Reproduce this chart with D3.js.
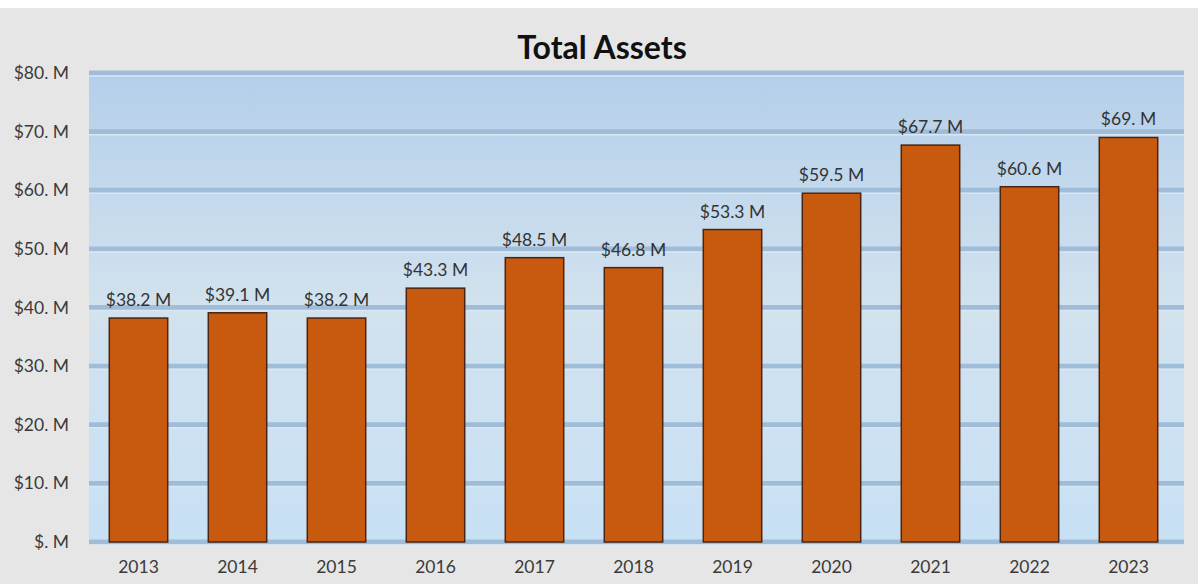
<!DOCTYPE html>
<html>
<head>
<meta charset="utf-8">
<script src="https://cdn.jsdelivr.net/npm/d3@7"></script>
<style>
  body { margin: 0; background: #fff; }
  svg { display: block; font-family: Lato, "Open Sans", sans-serif; }
</style>
</head>
<body>
<svg id="chart" width="1198" height="584"></svg>
<script>
// chart data
var years = ['2013', '2014', '2015', '2016', '2017', '2018', '2019', '2020', '2021', '2022', '2023'];
var assets = [38.2, 39.1, 38.2, 43.3, 48.5, 46.8, 53.3, 59.5, 67.7, 60.6, 69.0];
var assetLabels = ['$38.2 M', '$39.1 M', '$38.2 M', '$43.3 M', '$48.5 M', '$46.8 M', '$53.3 M', '$59.5 M', '$67.7 M', '$60.6 M', '$69. M'];
var yTicks = [0, 10, 20, 30, 40, 50, 60, 70, 80];
var yTickLabels = ['$. M', '$10. M', '$20. M', '$30. M', '$40. M', '$50. M', '$60. M', '$70. M', '$80. M'];

var svg = d3.select('#chart');
var margin = { top: 73, right: 20, bottom: 42, left: 89 };
var width = 1198 - margin.left - margin.right,
    height = 584 - margin.top - margin.bottom;

// outer grey panel
svg.append('rect')
  .attr('x', 0).attr('y', 8)
  .attr('width', 1198).attr('height', 576)
  .attr('fill', '#e6e6e6');

var defs = svg.append('defs');
var grad = defs.append('linearGradient')
  .attr('id', 'plotBg')
  .attr('x1', 0).attr('y1', 0).attr('x2', 0).attr('y2', 1);
grad.append('stop').attr('offset', '0%').attr('stop-color', '#b4cfea');
grad.append('stop').attr('offset', '50%').attr('stop-color', '#d2e2ee');
grad.append('stop').attr('offset', '100%').attr('stop-color', '#c8e0f5');

svg.append('text')
  .attr('x', 602).attr('y', 59)
  .attr('text-anchor', 'middle')
  .attr('font-size', 32)
  .attr('font-weight', 'bold')
  .attr('fill', '#111')
  .text('Total Assets');

var g = svg.append('g')
  .attr('transform', 'translate(' + margin.left + ',' + margin.top + ')');

var x = d3.scaleBand()
  .domain(years)
  .range([0, width])
  .paddingInner(0.41)
  .paddingOuter(0.205);

var y = d3.scaleLinear()
  .domain([0, 80])
  .range([height, 0]);

g.append('rect')
  .attr('x', 0).attr('y', 0)
  .attr('width', width + 6).attr('height', height)
  .attr('fill', 'url(#plotBg)');

// gridlines: thick blue band with a light centre line
var grid = g.append('g').attr('class', 'grid');
grid.selectAll('line.band')
  .data(yTicks)
  .enter().append('line')
  .attr('class', 'band')
  .attr('x1', 0).attr('x2', width + 6)
  .attr('y1', function(d){ return y(d); })
  .attr('y2', function(d){ return y(d); })
  .attr('stroke', '#9fbcd8')
  .attr('stroke-width', 5);
grid.selectAll('line.hl')
  .data(yTicks)
  .enter().append('line')
  .attr('class', 'hl')
  .attr('x1', 0).attr('x2', width + 6)
  .attr('y1', function(d){ return y(d) + 3; })
  .attr('y2', function(d){ return y(d) + 3; })
  .attr('stroke', '#d8e7f3')
  .attr('stroke-width', 1.5);

// y axis
var yAxis = d3.axisLeft(y)
  .tickValues(yTicks)
  .tickSize(0)
  .tickPadding(20)
  .tickFormat(function(d, i){ return yTickLabels[i]; });

g.append('g')
  .call(yAxis)
  .call(function(a){ a.select('.domain').remove(); })
  .selectAll('text')
  .attr('font-size', 17.5)
  .attr('font-family', 'Lato, "Open Sans", sans-serif')
  .attr('fill', '#3a3a3a');

// x axis
var xAxis = d3.axisBottom(x).tickSize(0).tickPadding(19);
g.append('g')
  .attr('transform', 'translate(0,' + height + ')')
  .call(xAxis)
  .call(function(a){ a.select('.domain').remove(); })
  .selectAll('text')
  .attr('font-size', 17.5)
  .attr('font-family', 'Lato, "Open Sans", sans-serif')
  .attr('fill', '#3a3a3a');

// bars
g.selectAll('rect.bar')
  .data(assets)
  .enter().append('rect')
  .attr('class', 'bar')
  .attr('x', function(d, i){ return x(years[i]); })
  .attr('y', function(d){ return y(d); })
  .attr('width', x.bandwidth())
  .attr('height', function(d){ return height - y(d); })
  .attr('fill', '#c85a10')
  .attr('stroke', '#4a2410')
  .attr('stroke-width', 1.5);

// value labels
g.selectAll('text.val')
  .data(assets)
  .enter().append('text')
  .attr('class', 'val')
  .attr('x', function(d, i){ return x(years[i]) + x.bandwidth() / 2; })
  .attr('y', function(d){ return y(d) - 12; })
  .attr('text-anchor', 'middle')
  .attr('font-size', 17.5)
  .attr('fill', '#333')
  .text(function(d, i){ return assetLabels[i]; });
</script>
</body>
</html>
